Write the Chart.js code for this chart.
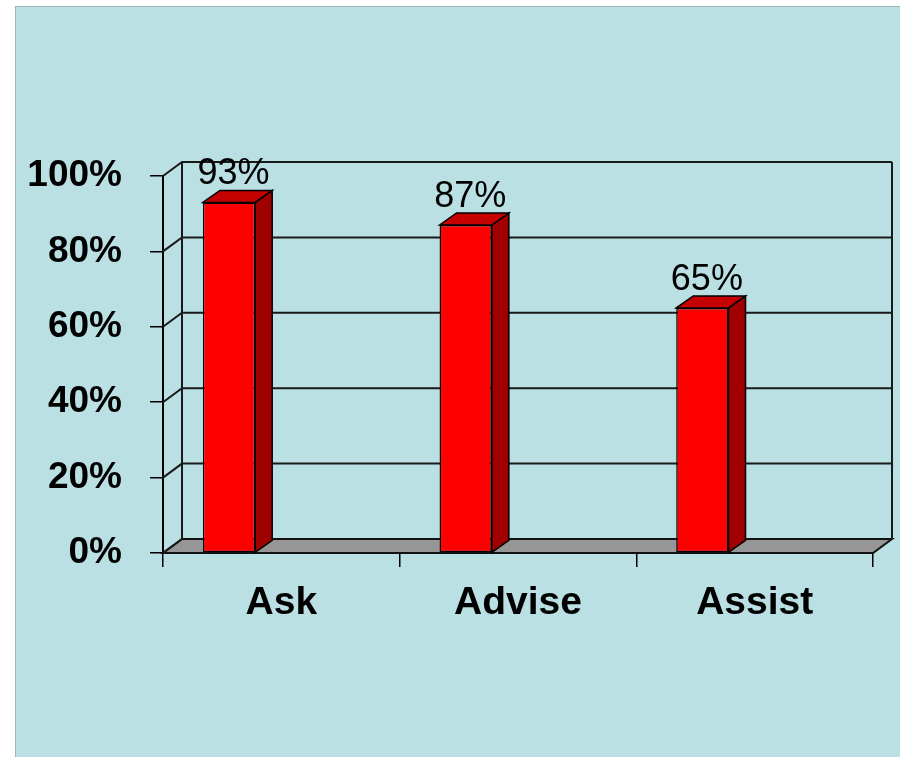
<!DOCTYPE html>
<html>
<head>
<meta charset="utf-8">
<script src="https://cdn.jsdelivr.net/npm/chart.js@4.4.0/dist/chart.umd.min.js"></script>
<style>
    html, body { margin: 0; padding: 0; background: #fff; }
    #panel {
        position: absolute; left: 15px; top: 6px; width: 900px; height: 760px;
        background: #BAE0E3; border: 1px solid #9FB7BA;
    }
    #chart { position: absolute; left: 0; top: 0; }
</style>
</head>
<body>
<div id="panel"></div>
<canvas id="chart" width="900" height="757"></canvas>
<script>
const categories = ['Ask', 'Advise', 'Assist'];
const values = [93, 87, 65];
const yMin = 0;
const yMax = 100;
const yStep = 20;

// 3D offsets: back wall and bar depth
const WALL_DX = 19, WALL_DY = -14;
const BAR_DX = 17, BAR_DY = -12;

const FONT = '"Liberation Sans", Arial, sans-serif';

const box3d = {
    id: 'box3d',
    beforeDatasetsDraw(chart) {
        const { ctx, chartArea: a } = chart;
        const y = chart.scales.y;
        ctx.save();
        ctx.lineJoin = 'miter';

        // floor
        ctx.beginPath();
        ctx.moveTo(a.left, a.bottom);
        ctx.lineTo(a.right, a.bottom);
        ctx.lineTo(a.right + WALL_DX, a.bottom + WALL_DY);
        ctx.lineTo(a.left + WALL_DX, a.bottom + WALL_DY);
        ctx.closePath();
        ctx.fillStyle = '#969696';
        ctx.fill();
        ctx.strokeStyle = '#111';
        ctx.lineWidth = 2;
        ctx.stroke();

        // back gridlines + left wall diagonals
        ctx.strokeStyle = '#1a1a1a';
        ctx.lineWidth = 2;
        for (let v = yMin; v <= yMax; v += yStep) {
            const py = y.getPixelForValue(v);
            ctx.beginPath();
            ctx.moveTo(a.left, py);
            ctx.lineTo(a.left + WALL_DX, py + WALL_DY);
            if (v > yMin) ctx.lineTo(a.right + WALL_DX, py + WALL_DY);
            ctx.stroke();
        }

        // back verticals
        ctx.beginPath();
        ctx.moveTo(a.left + WALL_DX, a.top + WALL_DY);
        ctx.lineTo(a.left + WALL_DX, a.bottom + WALL_DY);
        ctx.moveTo(a.right + WALL_DX, a.top + WALL_DY);
        ctx.lineTo(a.right + WALL_DX, a.bottom + WALL_DY);
        ctx.stroke();
        ctx.restore();
    },
    afterDatasetsDraw(chart) {
        const { ctx } = chart;
        const meta = chart.getDatasetMeta(0);
        ctx.save();
        ctx.strokeStyle = '#000';
        ctx.lineWidth = 1.5;
        meta.data.forEach((bar, i) => {
            const p = bar.getProps(['x', 'y', 'base', 'width'], true);
            const l = p.x - p.width / 2, r = p.x + p.width / 2;

            // side face
            ctx.beginPath();
            ctx.moveTo(r, p.y);
            ctx.lineTo(r + BAR_DX, p.y + BAR_DY);
            ctx.lineTo(r + BAR_DX, p.base + BAR_DY);
            ctx.lineTo(r, p.base);
            ctx.closePath();
            ctx.fillStyle = '#A00000';
            ctx.fill();
            ctx.stroke();

            // top face
            ctx.beginPath();
            ctx.moveTo(l, p.y);
            ctx.lineTo(l + BAR_DX, p.y + BAR_DY);
            ctx.lineTo(r + BAR_DX, p.y + BAR_DY);
            ctx.lineTo(r, p.y);
            ctx.closePath();
            ctx.fillStyle = '#C40000';
            ctx.fill();
            ctx.stroke();

            // value label
            ctx.fillStyle = '#000';
            ctx.font = '36px ' + FONT;
            ctx.textAlign = 'center';
            ctx.textBaseline = 'alphabetic';
            ctx.fillText(values[i] + '%', p.x + BAR_DX / 2 - 4, p.y + BAR_DY - 6);
        });
        ctx.restore();
    }
};

new Chart(document.getElementById('chart'), {
    type: 'bar',
    data: {
        labels: categories,
        datasets: [
            {
                data: values,
                backgroundColor: '#FF0000',
                borderColor: '#000',
                borderWidth: 1.5,
                borderSkipped: false,
                categoryPercentage: 0.884,
                barPercentage: 0.5
            },
            {
                // empty slot so the bar sits left of the category centre
                data: categories.map(() => null),
                categoryPercentage: 0.884,
                barPercentage: 0.5
            }
        ]
    },
    options: {
        responsive: false,
        animation: false,
        layout: { padding: { top: 176, right: 27, left: 0, bottom: 0 } },
        plugins: {
            legend: { display: false },
            tooltip: { enabled: false }
        },
        scales: {
            x: {
                afterFit: s => { s.height = 204; },
                grid: { drawOnChartArea: false, tickLength: 14, color: '#000', lineWidth: 1.5 },
                border: { display: true, color: '#000', width: 2 },
                ticks: {
                    color: '#000',
                    padding: 13,
                    font: { family: FONT, size: 39, weight: 'bold' }
                }
            },
            y: {
                min: yMin,
                max: yMax,
                afterFit: s => { s.width = 163; },
                grid: { drawOnChartArea: false, tickLength: 13, color: '#000', lineWidth: 1.5 },
                border: { display: true, color: '#000', width: 2 },
                ticks: {
                    stepSize: yStep,
                    color: '#000',
                    padding: 28,
                    font: { family: FONT, size: 37, weight: 'bold' },
                    callback: v => v + '%'
                }
            }
        }
    },
    plugins: [box3d]
});
</script>
</body>
</html>
